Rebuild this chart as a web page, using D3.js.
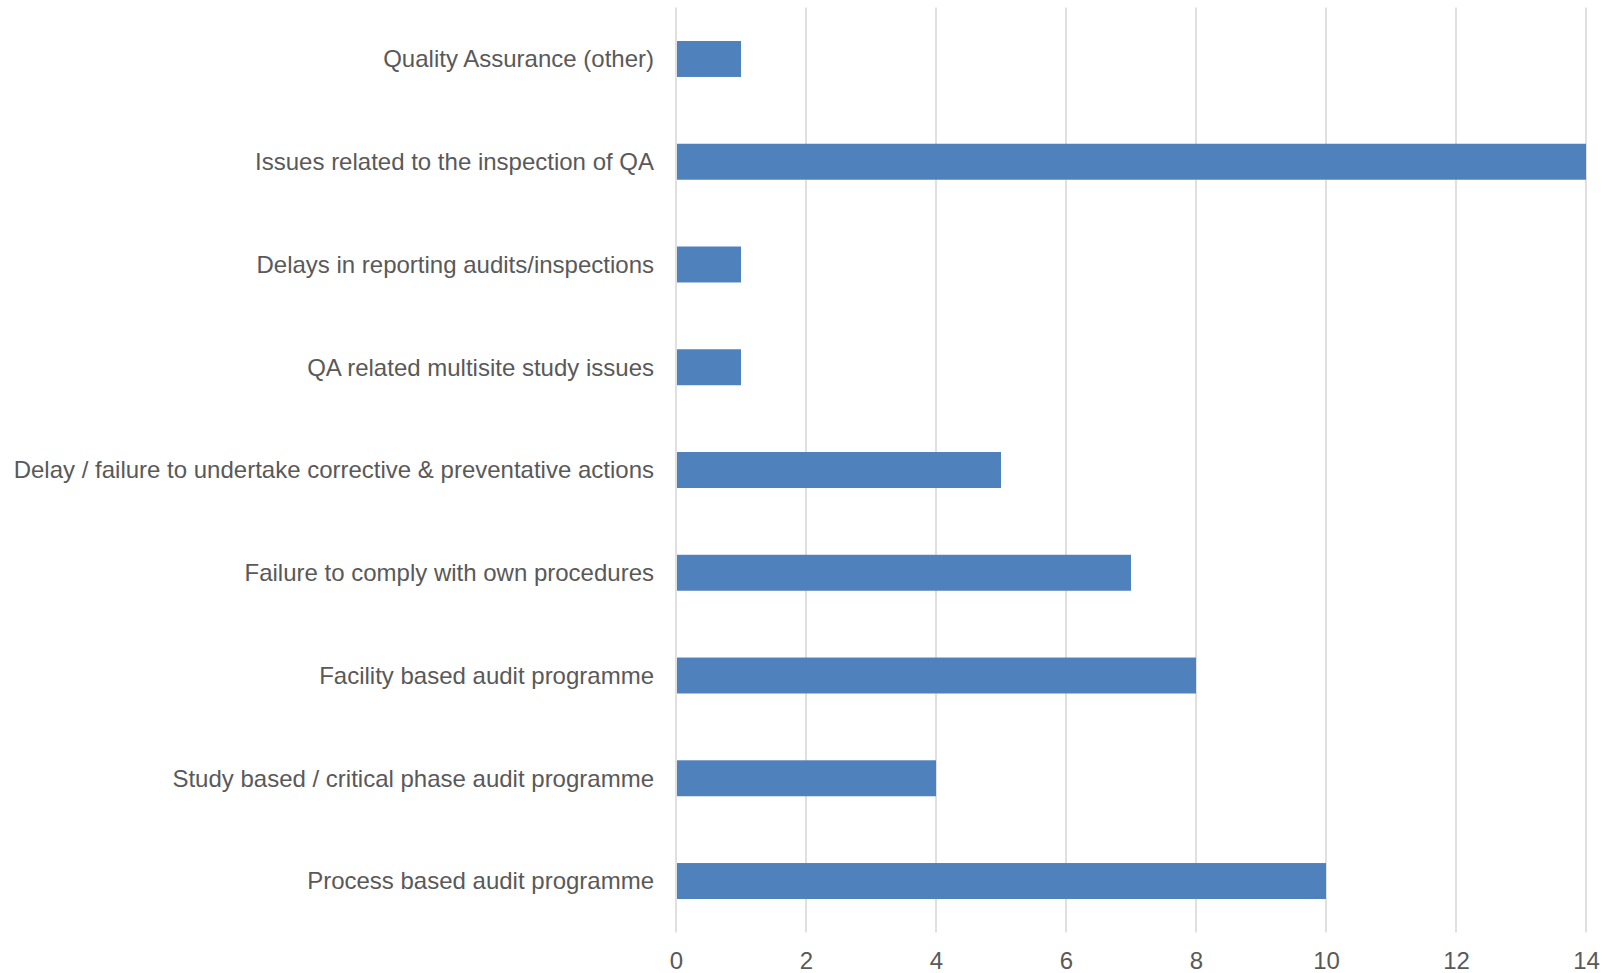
<!DOCTYPE html>
<html>
<head>
<meta charset="utf-8">
<script src="https://cdn.jsdelivr.net/npm/d3@7"></script>
<style>
  html, body { margin: 0; padding: 0; background: #ffffff; }
  svg { display: block; }
  text { font-family: "Liberation Sans", Arial, sans-serif; fill: #595959; }
</style>
</head>
<body>
<svg id="chart" width="1606" height="973"></svg>
<script>
// Findings by category (top to bottom)
const categories = [
  "Quality Assurance (other)",
  "Issues related to the inspection of QA",
  "Delays in reporting audits/inspections",
  "QA related multisite study issues",
  "Delay / failure to undertake corrective & preventative actions",
  "Failure to comply with own procedures",
  "Facility based audit programme",
  "Study based / critical phase audit programme",
  "Process based audit programme"
];
const counts = [1, 14, 1, 1, 5, 7, 8, 4, 10];
const xTicks = [0, 2, 4, 6, 8, 10, 12, 14];

const svg = d3.select("#chart");
const plot = { left: 676, right: 1586, top: 7.6, bottom: 932.4 };

const x = d3.scaleLinear().domain([0, 14]).range([plot.left, plot.right]);
const y = d3.scaleBand().domain(categories).range([plot.top, plot.bottom])
  .paddingInner(0.65).paddingOuter(0.325);

// Vertical gridlines
svg.append("g")
  .selectAll("line")
  .data(xTicks)
  .join("line")
  .attr("x1", d => x(d)).attr("x2", d => x(d))
  .attr("y1", plot.top).attr("y2", plot.bottom)
  .attr("stroke", "#d9d9d9")
  .attr("stroke-width", 1.6);

// Bars
svg.append("g")
  .selectAll("rect")
  .data(categories)
  .join("rect")
  .attr("x", x(0) + 1)
  .attr("y", d => y(d))
  .attr("width", (d, i) => x(counts[i]) - x(0) - 1)
  .attr("height", y.bandwidth())
  .attr("fill", "#4f81bd");

// Category labels
svg.append("g")
  .selectAll("text")
  .data(categories)
  .join("text")
  .attr("x", plot.left - 22)
  .attr("y", d => y(d) + y.bandwidth() / 2)
  .attr("dy", "0.35em")
  .attr("text-anchor", "end")
  .attr("font-size", 24)
  .text(d => d);

// Value axis labels
const xAxis = d3.axisBottom(x).tickValues(xTicks).tickSize(0).tickPadding(0);
const gx = svg.append("g").attr("transform", `translate(0, ${plot.bottom})`).call(xAxis);
gx.select(".domain").remove();
gx.selectAll("text")
  .attr("y", 28)
  .attr("dy", "0.35em")
  .attr("font-size", 24)
  .attr("font-family", "Liberation Sans, Arial, sans-serif")
  .attr("fill", "#595959");
</script>
</body>
</html>
